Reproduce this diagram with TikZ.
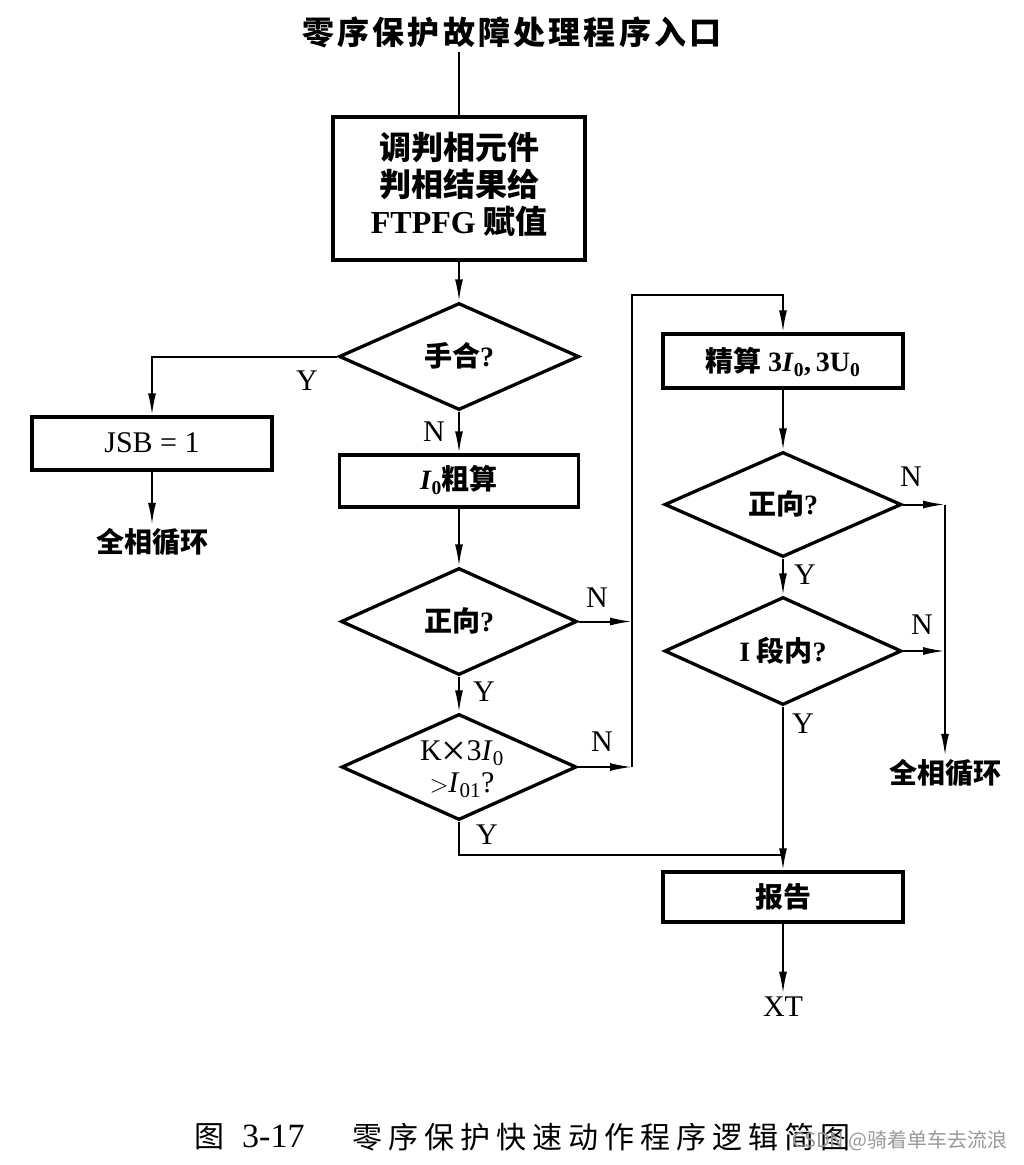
\documentclass[tikz,border=0pt]{standalone}
\usepackage{fontspec}
\setmainfont{Liberation Serif}
\newfontfamily\cjk{Noto Sans CJK SC}
\newfontfamily\cjkt[LetterSpace=10]{Noto Sans CJK SC}
\newfontfamily\cjkc[LetterSpace=20]{Noto Sans CJK SC}
\usetikzlibrary{shapes.geometric,arrows.meta}
\newcommand{\fs}[1]{\fontsize{#1}{#1}\selectfont}
\newcommand{\Isb}[1]{\textit{I}\textsubscript{#1}}
\begin{document}
\begin{tikzpicture}[x=1pt,y=-1pt,
  box/.style={draw, line width=3.3pt, inner sep=0pt},
  dia/.style={draw, diamond, aspect=2.2, line width=3.3pt, inner sep=0pt},
  conn/.style={line width=2pt},
  arr/.style={-{Latex[length=22pt,width=8pt]}},
  cn/.style={font=\cjk\bfseries\fs{28}},
  lt/.style={font=\rmfamily\fs{30}},
]
\fill[white] (0,0) rectangle (1024,1165);
\useasboundingbox (0,0) rectangle (1024,1165);

% title
\node (title) at (512,32) {\cjkt\bfseries\fs{32}零序保护故障处理程序入口};
\coordinate (t0) at (459,52);

% left column
\node[box, minimum width=252pt, minimum height=143pt] (b1) at (459,188.5) {};
\node[font=\cjk\bfseries\fs{32}, align=center, inner sep=0pt] (b1t) at (459,184)
  {调判相元件\\[5pt]判相结果给\\[5pt]{\rmfamily\bfseries FTPFG} 赋值};

\node[dia, minimum width=240pt, minimum height=107pt] (d1) at (459,356.5) {};
\node[cn] (d1t) at (459,356) {手合{\rmfamily ?}};

\node[box, minimum width=240pt, minimum height=53pt] (jsb) at (152,443.5) {};
\node[lt] (jsbt) at (152,443) {JSB = 1};
\node[cn] (q1) at (152,542) {全相循环};

\node[box, minimum width=239pt, minimum height=52pt] (b2) at (459,481) {};
\node[cn] (b2t) at (459,480) {{\rmfamily\Isb{0}}粗算};

\node[dia, minimum width=236pt, minimum height=107pt] (d2) at (459,621.5) {};
\node[cn] (d2t) at (459,621) {正向{\rmfamily ?}};

\node[dia, minimum width=235pt, minimum height=106pt] (d3) at (459,767) {};
\node[lt, align=center, inner sep=0pt] (d3t) at (462,769)
  {K\smash{\raisebox{-5pt}{\fs{44}×}}3\Isb{0}\\[2pt]$>$\Isb{01}?};

% right column
\node[box, minimum width=240pt, minimum height=54pt] (b3) at (783,361) {};
\node[cn] (b3t) at (783,362) {精算 {\rmfamily 3\Isb{0},\,3U\textsubscript{0}}};

\node[dia, minimum width=237pt, minimum height=105pt] (d4) at (783,504.5) {};
\node[cn] (d4t) at (783,504) {正向{\rmfamily ?}};

\node[dia, minimum width=237pt, minimum height=108pt] (d5) at (783,651) {};
\node[cn] (d5t) at (783,651) {{\rmfamily I} 段内{\rmfamily ?}};

\node[box, minimum width=240pt, minimum height=50pt] (b4) at (783,897) {};
\node[cn] (b4t) at (783,897) {报告};
\node[lt] (xt) at (783,1007) {XT};
\node[cn] (q2) at (945,773) {全相循环};

% junction coordinates
\coordinate (r2) at (632,621.5);
\coordinate (r3) at (632,767);
\coordinate (tl) at (632,295);
\coordinate (j) at (783,855);
\coordinate (r4) at (945,504.5);
\coordinate (r5) at (945,651);

% connectors
\draw[conn] (t0) -- (b1.north);
\draw[conn,arr] (b1.south) -- (d1.north);
\draw[conn,arr] (d1.west) -| (jsb.north);
\draw[conn,arr] (jsb.south) -- (q1.north);
\draw[conn,arr] (d1.south) -- (b2.north);
\draw[conn,arr] (b2.south) -- (d2.north);
\draw[conn,arr] (d2.south) -- (d3.north);
\draw[conn,arr] (d2.east) -- (r2);
\draw[conn,arr] (d3.east) -- (r3);
\draw[conn,arr] (r3) -- (tl) -| (b3.north);
\draw[conn] (d3.south) |- (j);
\draw[conn,arr] (b3.south) -- (d4.north);
\draw[conn,arr] (d4.south) -- (d5.north);
\draw[conn,arr] (d5.south) -- (b4.north);
\draw[conn,arr] (d4.east) -- (r4);
\draw[conn,arr] (d5.east) -- (r5);
\draw[conn,arr] (r4) -- (q2.north);
\draw[conn,arr] (b4.south) -- (xt.north);

% labels
\node[lt] (ly1) at (307,381) {Y};
\node[lt] (ln1) at (434,432) {N};
\node[lt] (ln2) at (597,598) {N};
\node[lt] (ly2) at (484,692) {Y};
\node[lt] (ln3) at (602,742) {N};
\node[lt] (ly3) at (487,835) {Y};
\node[lt] (ln4) at (911,477) {N};
\node[lt] (ly4) at (805,575) {Y};
\node[lt] (ln5) at (922,625) {N};
\node[lt] (ly5) at (803,724) {Y};

% caption
\node[anchor=west, inner sep=0pt] (cap1) at (194,1137) {{\cjk\fs{30}图}\hspace{18pt}{\rmfamily\fs{34}3-17}};
\node[anchor=west, inner sep=0pt] (cap2) at (352,1137) {\cjkc\fs{30}零序保护快速动作程序逻辑简图};
\node[anchor=east, inner sep=0pt, text=black!40] (wm) at (1008,1141) {\cjk\fs{20}CSDN @骑着单车去流浪};
\end{tikzpicture}
\end{document}
